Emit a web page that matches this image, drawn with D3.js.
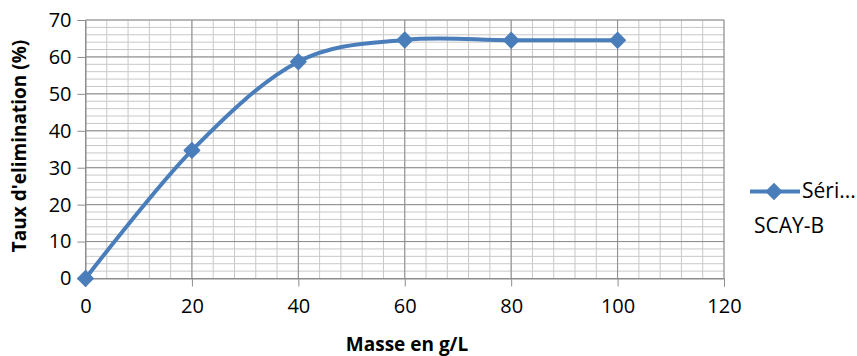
<!DOCTYPE html>
<html>
<head>
<meta charset="utf-8">
<script src="https://cdn.jsdelivr.net/npm/d3@7"></script>
<style>
  body { margin: 0; background: #fff; }
  svg { display: block; font-family: "Open Sans", sans-serif; }
</style>
</head>
<body>
<svg id="chart" width="857" height="356"></svg>
<script>
// Data
const masse = [0, 20, 40, 60, 80, 100];
const taux = [0, 34.7, 58.7, 64.6, 64.5, 64.5];
const xTicks = [0, 20, 40, 60, 80, 100, 120];
const yTicks = [0, 10, 20, 30, 40, 50, 60, 70];
const seriesName = "Séri...";
const legendNote = "SCAY-B";

const svg = d3.select("#chart");
const x = d3.scaleLinear().domain([0, 120]).range([85.5, 724]);
const y = d3.scaleLinear().domain([0, 70]).range([278.5, 20]);

const grid = svg.append("g");

// minor grid
grid.selectAll(".vminor")
  .data(d3.range(0, 121, 4))
  .enter().append("line")
  .attr("x1", d => x(d)).attr("x2", d => x(d))
  .attr("y1", y(0)).attr("y2", y(70))
  .attr("stroke", "#c8c8c8").attr("stroke-width", 1);
grid.selectAll(".hminor")
  .data(d3.range(0, 71, 2))
  .enter().append("line")
  .attr("x1", x(0)).attr("x2", x(120))
  .attr("y1", d => y(d)).attr("y2", d => y(d))
  .attr("stroke", "#c8c8c8").attr("stroke-width", 1);

// major grid
grid.selectAll(".vmajor")
  .data(xTicks)
  .enter().append("line")
  .attr("x1", d => x(d)).attr("x2", d => x(d))
  .attr("y1", y(0)).attr("y2", y(70))
  .attr("stroke", "#8c8c8c").attr("stroke-width", 1);
grid.selectAll(".hmajor")
  .data(yTicks)
  .enter().append("line")
  .attr("x1", x(0)).attr("x2", x(120))
  .attr("y1", d => y(d)).attr("y2", d => y(d))
  .attr("stroke", "#8c8c8c").attr("stroke-width", 1);

// axes
const xAxis = d3.axisBottom(x).tickValues(xTicks).tickSize(8).tickPadding(12);
const yAxis = d3.axisLeft(y).tickValues(yTicks).tickSize(8).tickPadding(6);

const gx = svg.append("g").attr("transform", `translate(0,${y(0)})`).call(xAxis);
const gy = svg.append("g").attr("transform", `translate(${x(0)},0)`).call(yAxis);
[gx, gy].forEach(g => {
  g.select(".domain").attr("stroke", "#8c8c8c");
  g.selectAll(".tick line").attr("stroke", "#8c8c8c");
  g.selectAll("text")
    .attr("font-family", "Open Sans, sans-serif")
    .attr("font-size", 20)
    .attr("fill", "#000");
});

// smoothed line
const line = d3.line()
  .x((d, i) => x(masse[i]))
  .y(d => y(d))
  .curve(d3.curveCatmullRom.alpha(0));

svg.append("path")
  .datum(taux)
  .attr("fill", "none")
  .attr("stroke", "#4a7ebb")
  .attr("stroke-width", 4)
  .attr("d", line);

const diamond = d3.symbol().type(d3.symbolDiamond2).size(150);
svg.selectAll(".marker")
  .data(taux)
  .enter().append("path")
  .attr("d", diamond)
  .attr("transform", (d, i) => `translate(${x(masse[i])},${y(d)})`)
  .attr("fill", "#4a7ebb")
  .attr("stroke", "#4a7ebb")
  .attr("stroke-width", 1.5)
  .attr("stroke-linejoin", "round");

// axis titles
svg.append("text")
  .attr("transform", "translate(26,146) rotate(-90)")
  .attr("text-anchor", "middle")
  .attr("font-weight", "bold")
  .attr("font-size", 19)
  .text("Taux d'elimination (%)");

svg.append("text")
  .attr("x", 407).attr("y", 351)
  .attr("text-anchor", "middle")
  .attr("font-weight", "bold")
  .attr("font-size", 19)
  .text("Masse en g/L");

// legend
const lg = svg.append("g");
lg.append("line")
  .attr("x1", 750).attr("x2", 800)
  .attr("y1", 191.5).attr("y2", 191.5)
  .attr("stroke", "#4a7ebb").attr("stroke-width", 4);
lg.append("path")
  .attr("d", diamond)
  .attr("transform", "translate(774,191.5)")
  .attr("fill", "#4a7ebb")
  .attr("stroke", "#4a7ebb")
  .attr("stroke-width", 1.5);
lg.append("text")
  .attr("x", 802).attr("y", 198)
  .attr("font-size", 21)
  .text(seriesName);
lg.append("text")
  .attr("x", 754).attr("y", 233)
  .attr("font-size", 21)
  .text(legendNote);
</script>
</body>
</html>
